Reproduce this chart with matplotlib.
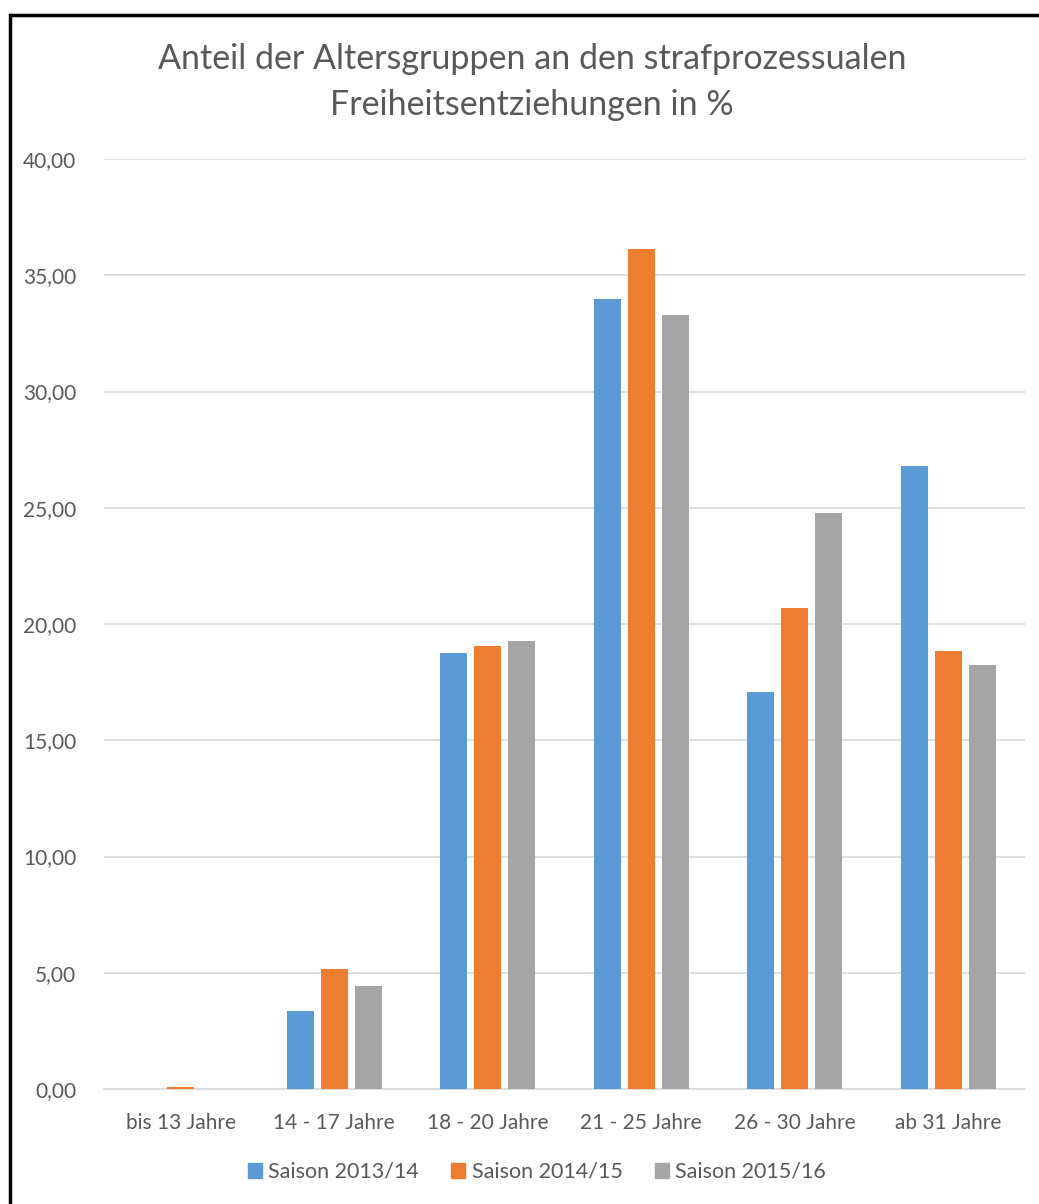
import matplotlib
matplotlib.use("Agg")
import matplotlib.pyplot as plt
from matplotlib.lines import Line2D
from matplotlib.patches import Patch
import numpy as np

plt.rcParams['font.family'] = ['Lato', 'DejaVu Sans']

categories = ["bis 13 Jahre", "14 - 17 Jahre", "18 - 20 Jahre",
              "21 - 25 Jahre", "26 - 30 Jahre", "ab 31 Jahre"]
series_names = ["Saison 2013/14", "Saison 2014/15", "Saison 2015/16"]
s2013 = [0.0, 3.35, 18.75, 33.97, 17.06, 26.81]
s2014 = [0.08, 5.16, 19.06, 36.12, 20.68, 18.84]
s2015 = [0.0, 4.43, 19.27, 33.29, 24.76, 18.24]
yticks = [0, 5, 10, 15, 20, 25, 30, 35, 40]
colors = ["#5B9BD5", "#ED7D31", "#A5A5A5"]
text_color = "#595959"

W, H = 1039, 1204
fig = plt.figure(figsize=(W / 100, H / 100), dpi=100)
ax = fig.add_axes([104 / W, 1 - 1089 / H, (1025 - 104) / W, (1089 - 159) / H])

x = np.arange(len(categories))
width = 0.176
step = 0.2215
for i, (vals, name) in enumerate(zip([s2013, s2014, s2015], series_names)):
    ax.bar(x + (i - 1) * step, vals, width, color=colors[i], label=name, zorder=3)

ax.set_xlim(-0.5, len(categories) - 0.5)
ax.set_ylim(0, 40)
ax.set_yticks(yticks)
ax.set_yticklabels([f"{v:.2f}".replace(".", ",") for v in yticks])
ax.set_xticks(x)
ax.set_xticklabels(categories)
ax.tick_params(axis='both', length=0, colors=text_color, labelsize=15)
ax.tick_params(axis='y', pad=20)
ax.tick_params(axis='x', pad=17)
ax.grid(axis='y', color="#D9D9D9", linewidth=1.2, zorder=0)
for side in ['top', 'right', 'left']:
    ax.spines[side].set_visible(False)
ax.spines['bottom'].set_color("#D9D9D9")
ax.spines['bottom'].set_linewidth(1.2)

fig.text(532 / W, 1 - 82 / H,
         "Anteil der Altersgruppen an den strafprozessualen\nFreiheitsentziehungen in %",
         ha='center', va='center', fontsize=24.5, color=text_color, linespacing=1.55)

handles = [Patch(color=c) for c in colors]
fig.legend(handles, series_names, loc='center', bbox_to_anchor=(537 / W, 1 - 1172 / H),
           ncol=3, frameon=False, fontsize=15.5, labelcolor=text_color,
           handlelength=0.65, handleheight=0.65, handletextpad=0.3, columnspacing=1.5)

# border lines of the chart area
fig.add_artist(Line2D([10 / W, 10 / W], [0, 1 - 15 / H], color='black', linewidth=2.5,
                      solid_capstyle='projecting'))
fig.add_artist(Line2D([10 / W, 1], [1 - 15 / H, 1 - 15 / H], color='black', linewidth=2.5,
                      solid_capstyle='butt'))

fig.savefig("out.png", dpi=100, facecolor='white')
